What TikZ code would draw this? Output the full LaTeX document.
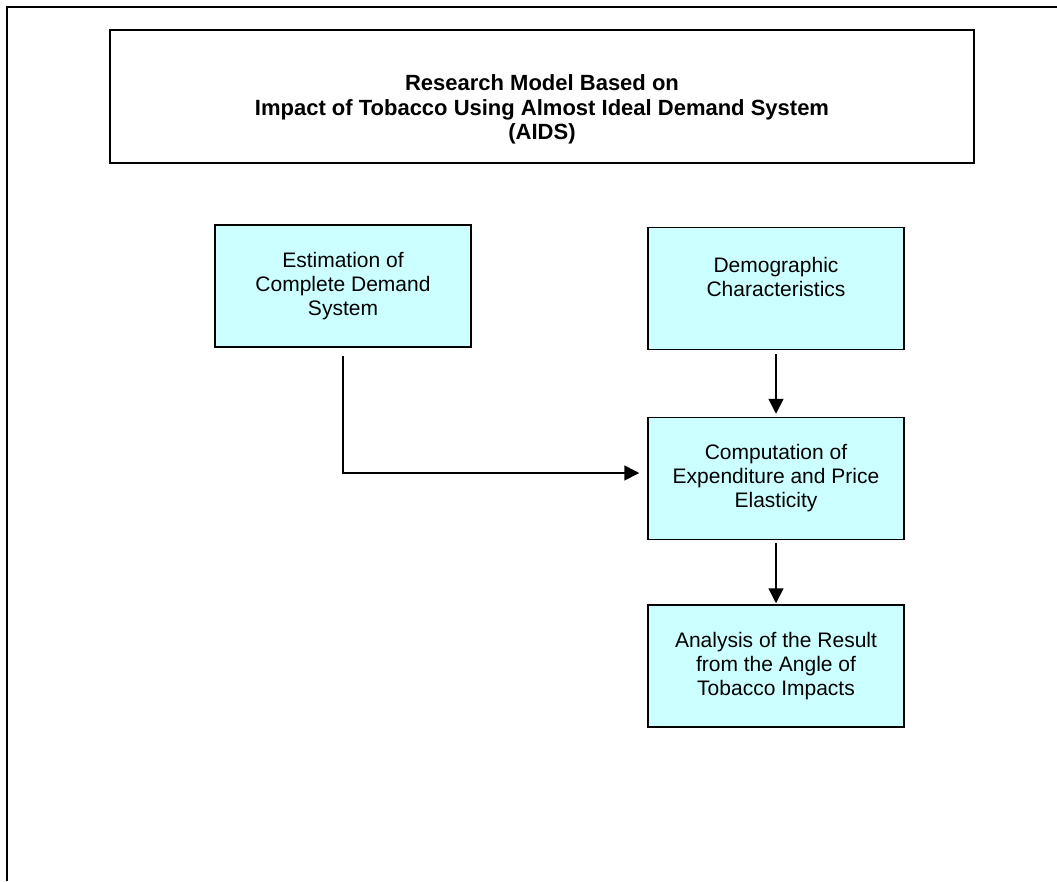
\documentclass[tikz,border=0pt]{standalone}
\usepackage{fontspec}
\setmainfont{Liberation Sans}
\usepackage{tikz}
\usetikzlibrary{arrows.meta}
\definecolor{paleaqua}{HTML}{CCFFFF}

\begin{document}
\begin{tikzpicture}[x=1pt, y=-1pt,
  flowbox/.style={draw, line width=1.5pt, fill=paleaqua, minimum width=256pt, minimum height=122pt,
    align=center, inner sep=2pt, font=\fontsize{21}{24}\selectfont},
  flowarrow/.style={line width=1.5pt, -{Triangle[length=15pt,width=15pt]}}]
\useasboundingbox (0,0) rectangle (1057,881);
% page frame
\draw[line width=2pt] (6.5,881) -- (6.5,6.5) -- (1057,6.5);
%
\node[draw, line width=1.5pt, minimum width=864pt, minimum height=133pt] (title) at (542,96.5) {};
\node[align=center, font=\bfseries\fontsize{22}{24.5}\selectfont] (titletext) at ([yshift=-13pt]title.center)
  {Research Model Based on\\Impact of Tobacco Using Almost Ideal Demand System\\(AIDS)};
%
\node[flowbox] (estim) at (343,286) {Estimation of\\Complete Demand\\System};
\node[flowbox] (demog) at (776,288.5) {Demographic\\Characteristics\\~};
\node[flowbox] (comput) at (776,478.5) {Computation of\\Expenditure and Price\\Elasticity};
\node[flowbox] (analys) at (776,666) {Analysis of the Result\\from the Angle of\\Tobacco Impacts};
%
\coordinate (bend) at (343,473);
\draw[flowarrow, shorten <=8pt, shorten >=8pt] (estim.south) -- (bend) -- (bend -| comput.west);
\draw[flowarrow, shorten <=4pt, shorten >=3pt] (demog.south) -- (comput.north);
\draw[flowarrow, shorten <=3pt, shorten >=1pt] (comput.south) -- (analys.north);
\end{tikzpicture}
\end{document}
